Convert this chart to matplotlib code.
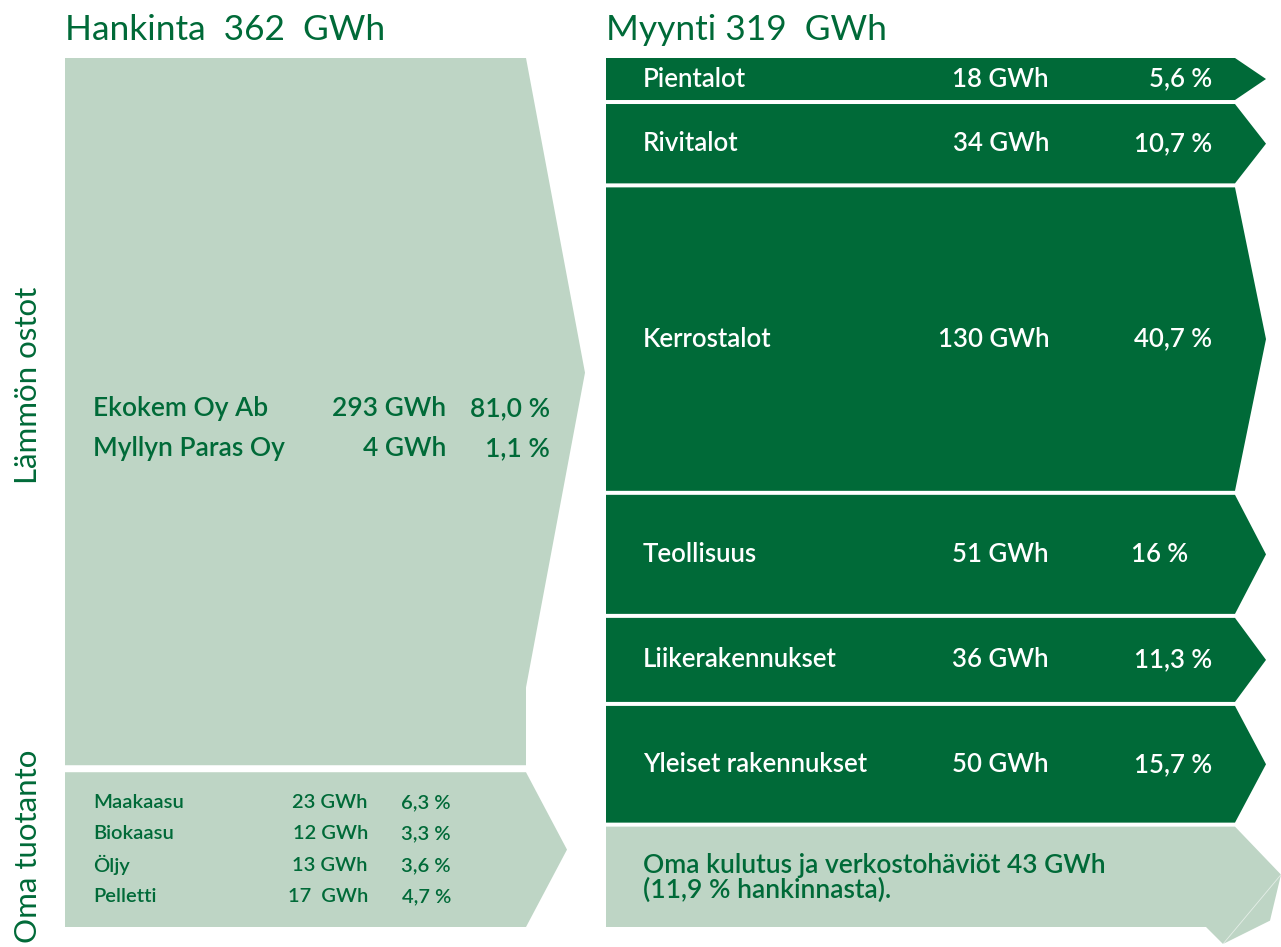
import matplotlib.pyplot as plt
from matplotlib.patches import Polygon

# --- data ---
buy_names = ["Ekokem Oy Ab", "Myllyn Paras Oy"]
buy_gwh = [293, 4]
buy_pct = ["81,0 %", "1,1 %"]

own_names = ["Maakaasu", "Biokaasu", "Öljy", "Pelletti"]
own_gwh = [23, 12, 13, 17]
own_val_txt = ["23 GWh", "12 GWh", "13 GWh", "17  GWh"]
own_pct = ["6,3 %", "3,3 %", "3,6 %", "4,7 %"]

sale_names = ["Pientalot", "Rivitalot", "Kerrostalot", "Teollisuus",
              "Liikerakennukset", "Yleiset rakennukset"]
sale_gwh = [18, 34, 130, 51, 36, 50]
sale_pct = ["5,6 %", "10,7 %", "40,7 %", "16 %", "11,3 %", "15,7 %"]

loss_gwh = 43
loss_txt = "Oma kulutus ja verkostohäviöt 43 GWh\n(11,9 % hankinnasta)."

total = sum(buy_gwh) + sum(own_gwh)          # 362
sold = sum(sale_gwh)                          # 319

LIGHT = "#BED5C5"
DARK = "#006A38"
FONT = ["Lato", "DejaVu Sans"]
W = "semibold"

fig = plt.figure(figsize=(12.81, 9.47), dpi=100)
ax = fig.add_axes([0, 0, 1, 1])
ax.set_xlim(0, 1281)
ax.set_ylim(947, 0)
ax.axis("off")

TOP, BOT = 58, 927

# ---------- left side ----------
gap_l = 7
k_l = (BOT - TOP - gap_l) / total
h_buy = sum(buy_gwh) * k_l
y0, y1 = TOP, TOP + h_buy
arr_bot = y0 + 0.89 * h_buy
tip_y = (y0 + arr_bot) / 2
ax.add_patch(Polygon([(65, y0), (526, y0), (585, tip_y), (526, arr_bot),
                      (526, y1), (65, y1)], closed=True, fc=LIGHT, ec="none"))
for i, (n, v, p) in enumerate(zip(buy_names, buy_gwh, buy_pct)):
    yy = tip_y + 36 + 40 * i
    ax.text(93, yy, n, color=DARK, fontsize=19, family=FONT, fontweight=W, va="center")
    ax.text(446, yy, f"{v} GWh", color=DARK, fontsize=19, family=FONT, fontweight=W,
            va="center", ha="right")
    ax.text(550, yy, p, color=DARK, fontsize=19, family=FONT, fontweight=W,
            va="center", ha="right")

y2 = y1 + gap_l
y3 = y2 + sum(own_gwh) * k_l
mid = (y2 + y3) / 2
ax.add_patch(Polygon([(65, y2), (526, y2), (567, mid), (526, y3), (65, y3)],
                     closed=True, fc=LIGHT, ec="none"))
for i, (n, vt, p) in enumerate(zip(own_names, own_val_txt, own_pct)):
    yy = mid + (i - 1.5) * 31.5
    ax.text(93, yy, n, color=DARK, fontsize=14.5, family=FONT, fontweight=W, va="center")
    ax.text(368, yy, vt, color=DARK, fontsize=14.5, family=FONT, fontweight=W,
            va="center", ha="right")
    ax.text(451, yy, p, color=DARK, fontsize=14.5, family=FONT, fontweight=W,
            va="center", ha="right")

ax.text(28, 385, "Lämmön ostot", rotation=90, color=DARK, fontsize=22.5,
        family=FONT, va="center", ha="center")
ax.text(28, 846, "Oma tuotanto", rotation=90, color=DARK, fontsize=22.5,
        family=FONT, va="center", ha="center")

# ---------- right side ----------
gap_r = 4
k_r = (BOT - TOP - gap_r * len(sale_gwh)) / total
y = TOP
for n, v, p in zip(sale_names, sale_gwh, sale_pct):
    h = v * k_r
    m = y + h / 2
    ax.add_patch(Polygon([(606, y), (1235, y), (1266, m), (1235, y + h), (606, y + h)],
                         closed=True, fc=DARK, ec="none"))
    ax.text(643, m, n, color="white", fontsize=18.5, family=FONT, fontweight=W, va="center")
    ax.text(1049, m, f"{v} GWh", color="white", fontsize=18.5, family=FONT, fontweight=W,
            va="center", ha="right")
    px = 1188 if p == "16 %" else 1212
    ax.text(px, m, p, color="white", fontsize=18.5, family=FONT, fontweight=W,
            va="center", ha="right")
    y += h + gap_r

ly0, ly1 = y, y + loss_gwh * k_r
ax.add_patch(Polygon([(606, ly0), (1235, ly0), (1281, ly0 + 48), (1270, ly0 + 94),
                      (1223, ly1 + 17), (1206, ly1), (606, ly1)],
                     closed=True, fc=LIGHT, ec="none"))
ax.plot([1281, 1223], [ly0 + 48, ly1 + 17], color="white", lw=0.6, alpha=0.6)
ax.text(643, (ly0 + ly1) / 2 + 1, loss_txt, color=DARK, fontsize=19, family=FONT,
        fontweight=W, va="center", linespacing=0.95)

# ---------- headers ----------
ax.text(65, 30, f"Hankinta  {total}  GWh", color=DARK, fontsize=25.5, family=FONT,
        va="center")
ax.text(606, 30, f"Myynti {sold}  GWh", color=DARK, fontsize=25.5, family=FONT,
        va="center")

fig.savefig("out.png", dpi=100)
